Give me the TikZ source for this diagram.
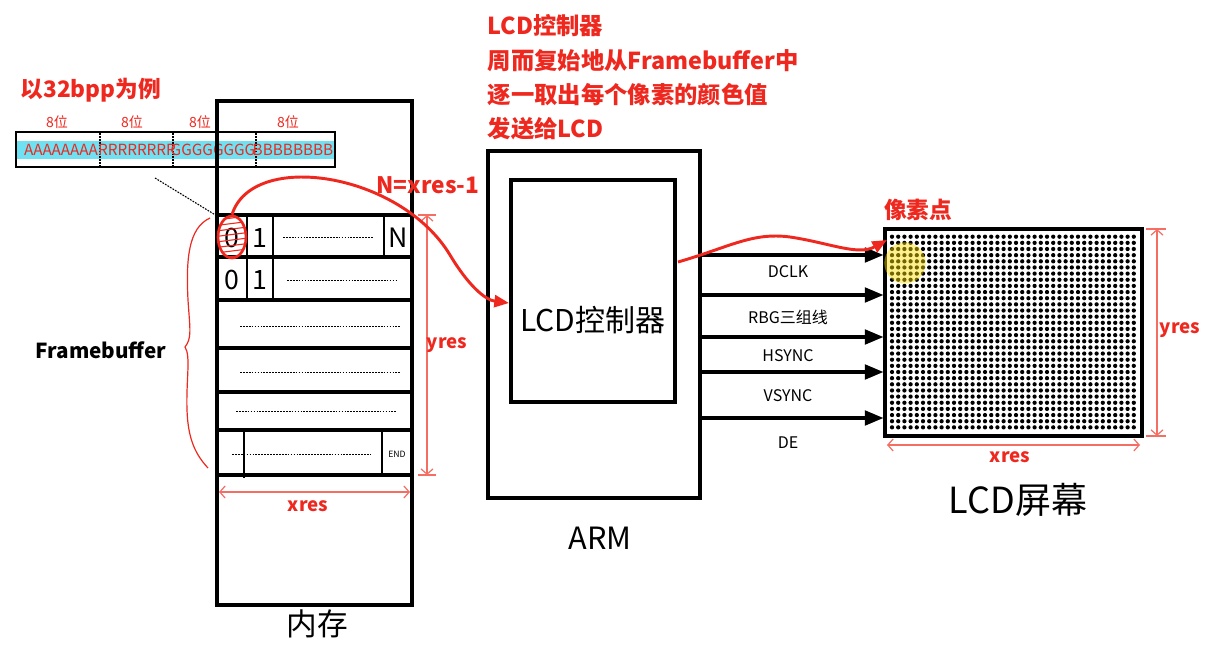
\documentclass[tikz,border=0pt]{standalone}
\usepackage{fontspec}
\setmainfont{Noto Sans CJK SC}
\usetikzlibrary{arrows.meta,shapes.geometric}
\definecolor{myred}{RGB}{238,40,30}
\definecolor{dimred}{RGB}{244,110,100}
\definecolor{band}{RGB}{110,225,242}
\newcommand\fsz[1]{\fontsize{#1}{#1}\selectfont}
\begin{document}
\begin{tikzpicture}[x=0.75pt,y=-0.75pt,
  thickbox/.style={draw,line width=2.3pt,inner sep=0pt},
  rowline/.style={line width=2.6pt},
  cellline/.style={line width=1.1pt},
  dotline/.style={line width=0.7pt,dash pattern=on 1.3pt off 0.9pt},
  sig/.style={line width=2.4pt,-{Triangle[length=14pt,width=11pt]}},
  dimline/.style={draw=dimred,line width=0.9pt,{Straight Barb[length=4pt,width=9pt]}-{Straight Barb[length=4pt,width=9pt]}},
  tick/.style={draw=dimred,line width=0.9pt},
  rtxt/.style={text=myred,font=\bfseries\fsz{17}},
  dimtxt/.style={text=myred,font=\bfseries\fsz{14}},
  redcurve/.style={draw=myred,line width=2.2pt,-{Triangle[length=11pt,width=9pt]}},
  bartxt/.style={text=myred,font=\fsz{11.5},inner sep=0pt},
  bitlbl/.style={text=myred,font=\fsz{10.5}},
  siglbl/.style={font=\fsz{12}},
  cellnum/.style={font=\fsz{20}}
]
\useasboundingbox (0,0) rectangle (1216,656);
\fill[white] (0,0) rectangle (1216,656);

% ---- 32bpp example ----
\node[rtxt,anchor=west] (bpp) at (16,90) {以32bpp为例};
\fill[band] (17,141) rectangle (334,159);
\node[draw,line width=1.1pt,minimum width=239.25pt,minimum height=26.25pt,inner sep=0pt] (bar) at (175.5,149.5) {};
\foreach \x in {100,173,256} \draw[dotline,line width=0.9pt] (\x,133) -- (\x,166);
\node[bartxt] (ta) at (61,150) {AAAAAAAA};
\node[bartxt] (tr) at (137,150) {RRRRRRRR};
\node[bartxt] (tg) at (213,150) {GGGGGGGG};
\node[bartxt] (tb) at (293,150) {BBBBBBBB};
\node[bitlbl] (b1) at (57,122) {8位};
\node[bitlbl] (b2) at (132,122) {8位};
\node[bitlbl] (b3) at (200,122) {8位};
\node[bitlbl] (b4) at (288,122) {8位};

% ---- memory ----
\node[thickbox,minimum width=146.25pt,minimum height=378pt] (mem) at (314.5,353) {};
\node[font=\fsz{23}] (memlbl) at (317,624) {内存};
\foreach \y [count=\i] in {215,257,300,348,392,430,475}
  \coordinate (r\i) at (0,\y);
\foreach \i in {1,...,7}
  \draw[rowline] (mem.west |- r\i) -- (mem.east |- r\i);
% cells
\draw[cellline] (247,215) -- (247,300);
\draw[cellline] (273,215) -- (273,300);
\draw[cellline] (384,215) -- (384,257);
\draw[cellline] (244,430) -- (244,478);
\draw[cellline] (382,430) -- (382,475);
\node[cellnum] (c0) at (232,238) {0};
\node[cellnum] (c1) at (260,238) {1};
\node[cellnum] (cn) at (398,238) {N};
\node[cellnum] (d0) at (232,280) {0};
\node[cellnum] (d1) at (260,280) {1};
\node[font=\fsz{6.5}] (endl) at (397,454) {END};
\draw[dotline] (283,237) -- (373,237);
\draw[dotline] (287,280) -- (397,280);
\draw[dotline] (240,326) -- (400,326);
\draw[dotline] (240,372) -- (400,372);
\draw[dotline] (236,411) -- (396,411);
\draw[dotline] (232,454) -- (370,454);

% pointer from bar to cell
\coordinate (pbar) at (155,178);
\draw[dotline,line width=0.8pt] (pbar) -- (mem.west |- r1);

% ellipse around 0
\begin{scope}
  \clip (232,237) ellipse [x radius=10.5pt, y radius=15.5pt];
  \foreach \k in {0,...,7}
    \draw[myred,line width=0.8pt] (216,220+\k*5.5) -- (248,216+\k*5.5);
\end{scope}
\node[ellipse,draw=myred,line width=2pt,minimum width=21pt,minimum height=31.5pt,inner sep=0pt] (e0) at (232,237) {};

% brace
\draw[myred,line width=0.9pt] (210,218) .. controls (188,228) and (186,260) .. (188,300)
  .. controls (190,330) and (192,338) .. (185,347)
  .. controls (191,356) and (186,380) .. (187,410)
  .. controls (188,440) and (196,455) .. (208,468);
\node[font=\bfseries\fsz{15.5}] (fb) at (101,350) {Framebuffer};

% dims memory
\draw[dimline] (427,215) -- (427,475);
\draw[tick] (418,215) -- (436,215);
\draw[tick] (418,475) -- (436,475);
\node[dimtxt] (yres1) at (447,345) {yres};
\draw[dimline] (219,492) -- (410,492);
\node[dimtxt] (xres1) at (308,506) {xres};

% ---- ARM ----
\node[thickbox,minimum width=159pt,minimum height=260.25pt] (arm) at (594,324.5) {};
\node[font=\fsz{23}] (armlbl) at (600,538) {ARM};
\node[thickbox,minimum width=123pt,minimum height=166.5pt] (ctrl) at (593,291) {};
\node[font=\fsz{22.5}] (ctrllbl) at (593,320) {LCD控制器};

\node[rtxt,anchor=north west,align=left,font=\bfseries\fontsize{17.5}{25.7}\selectfont] (desc) at (483,10)
  {LCD控制器\\周而复始地从Framebuffer中\\逐一取出每个像素的颜色值\\发送给LCD};
\node[rtxt] (nlbl) at (428,185) {N=xres-1};

% ---- screen ----
\node[thickbox,minimum width=192.75pt,minimum height=155.25pt] (scr) at (1013.5,332.5) {};
\foreach \i in {0,...,39}
  \foreach \j in {0,...,31}
    \fill (892+\i*6.2,236.7+\j*6.15) circle[radius=1.6pt];
\fill[yellow!85!orange,opacity=0.45] (905,263) circle[radius=15.5pt];
\node[rtxt] (pix) at (918,210) {像素点};
\node[font=\fsz{27}] (scrlbl) at (1018,500) {LCD屏幕};
\draw[dimline] (1157,229) -- (1157,436);
\draw[tick] (1146,229) -- (1166,229);
\draw[tick] (1146,436) -- (1166,436);
\node[dimtxt] (yres2) at (1180,330) {yres};
\draw[dimline] (887,445) -- (1140,445);
\node[dimtxt] (xres2) at (1010,457) {xres};

% ---- signals ----
\foreach \y [count=\i] in {255,295,337,372,418} {
  \coordinate (s\i) at (0,\y);
  \draw[sig] (arm.east |- s\i) -- (scr.west |- s\i);
}
\node[siglbl] (l1) at (788,272) {DCLK};
\node[siglbl] (l2) at (788,317) {RBG三组线};
\node[siglbl] (l3) at (788,356) {HSYNC};
\node[siglbl] (l4) at (788,396) {VSYNC};
\node[siglbl] (l5) at (788,443) {DE};

% ---- red curves ----
\coordinate (ctrlin) at (509,303);
\draw[redcurve] (e0.north) .. controls (252,150) and (400,172) .. (450,255)
  .. controls (468,285) and (485,300) .. (ctrlin);
\coordinate (ctrlout) at (678,262);
\coordinate (pixpt) at (887,240);
\draw[redcurve] (ctrlout) .. controls (730,247) and (752,232) .. (790,237)
  .. controls (830,243) and (858,256) .. (pixpt);
\end{tikzpicture}
\end{document}
